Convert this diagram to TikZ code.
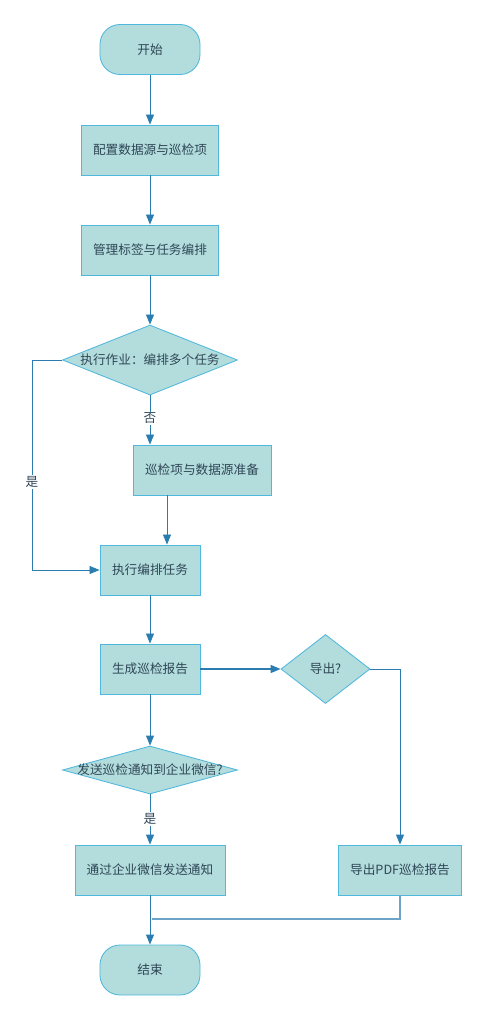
\documentclass[tikz,border=0pt]{standalone}
\usepackage{fontspec}
\setmainfont{Noto Sans CJK SC}
\usetikzlibrary{shapes.geometric,arrows.meta}
\definecolor{boxfill}{HTML}{B3DCDC}
\definecolor{boxline}{HTML}{4FB8DC}
\definecolor{flowline}{HTML}{2B7DB0}
\definecolor{boxtext}{HTML}{2E4656}
\tikzset{
  proc/.style={draw=boxline, fill=boxfill, line width=0.6pt, minimum height=1.25cm, text=boxtext, font=\small},
  term/.style={proc, rounded corners=0.5cm, minimum width=2.5cm},
  decide/.style={diamond, draw=boxline, fill=boxfill, line width=0.6pt, inner sep=0pt},
  flow/.style={draw=flowline, line width=0.6pt, -{Triangle[length=2.5mm,width=2mm]}},
  tag/.style={fill=white, text=boxtext, inner sep=1pt, font=\small},
  dtext/.style={text=boxtext, font=\small}
}
\begin{document}
\begin{tikzpicture}[x=0.025cm, y=-0.025cm]
      \useasboundingbox (0,0) rectangle (486,1020);
      \node[term] (start) at (150,49.5) {开始};
      \node[proc, minimum width=3.425cm] (cfg) at (150,150) {配置数据源与巡检项};
      \node[proc, minimum width=3.425cm] (tags) at (150,250) {管理标签与任务编排};
      \node[decide, minimum width=4.375cm, minimum height=1.75cm,
        label={[dtext]center:执行作业：编排多个任务}] (job) at (150,360) {};
      \node[proc, minimum width=3.45cm] (prep) at (202,470) {巡检项与数据源准备};
      \node[proc, minimum width=2.5cm] (run) at (150,570) {执行编排任务};
      \node[proc, minimum width=2.5cm] (report) at (150,669) {生成巡检报告};
      \node[decide, minimum width=2.225cm, minimum height=1.725cm,
        label={[dtext]center:导出?}] (export) at (325.5,669) {};
      \node[decide, minimum width=4.375cm, minimum height=1.2cm,
        label={[dtext]center:发送巡检通知到企业微信?}] (notify) at (150,770) {};
      \node[proc, minimum width=3.75cm] (wechat) at (150,870) {通过企业微信发送通知};
      \node[proc, minimum width=3.075cm] (pdf) at (400,870) {导出PDF巡检报告};
      \node[term] (end) at (150,970) {结束};
      \coordinate (yesbend) at (32,360);
      \coordinate (prepout) at (167,495);
      \coordinate (merge) at (152,919);
      % main line
      \draw[flow] (start) -- (cfg);
      \draw[flow] (cfg) -- (tags);
      \draw[flow] (tags) -- (job);
      \draw[flow] (job.west) -- (yesbend) |- node[tag, pos=0.29] {是} (run.west);
      \draw[flow] (job.south) -- node[tag, pos=0.47] {否} (job.south |- prep.north);
      \draw[flow] (prepout) -- (prepout |- run.north);
      \draw[flow] (run) -- (report);
      \draw[flow, line width=1pt] (report.east) -- (export.west);
      \draw[flow] (export.east) -| (pdf.north);
      \draw[flow] (report) -- (notify);
      \draw[flow] (notify.south) -- node[tag, pos=0.49] {是} (wechat.north);
      \draw[flow] (wechat) -- (end);
      \draw[draw=flowline!70, line width=0.8pt] (pdf.south) |- (merge);
    \end{tikzpicture}
\end{document}
